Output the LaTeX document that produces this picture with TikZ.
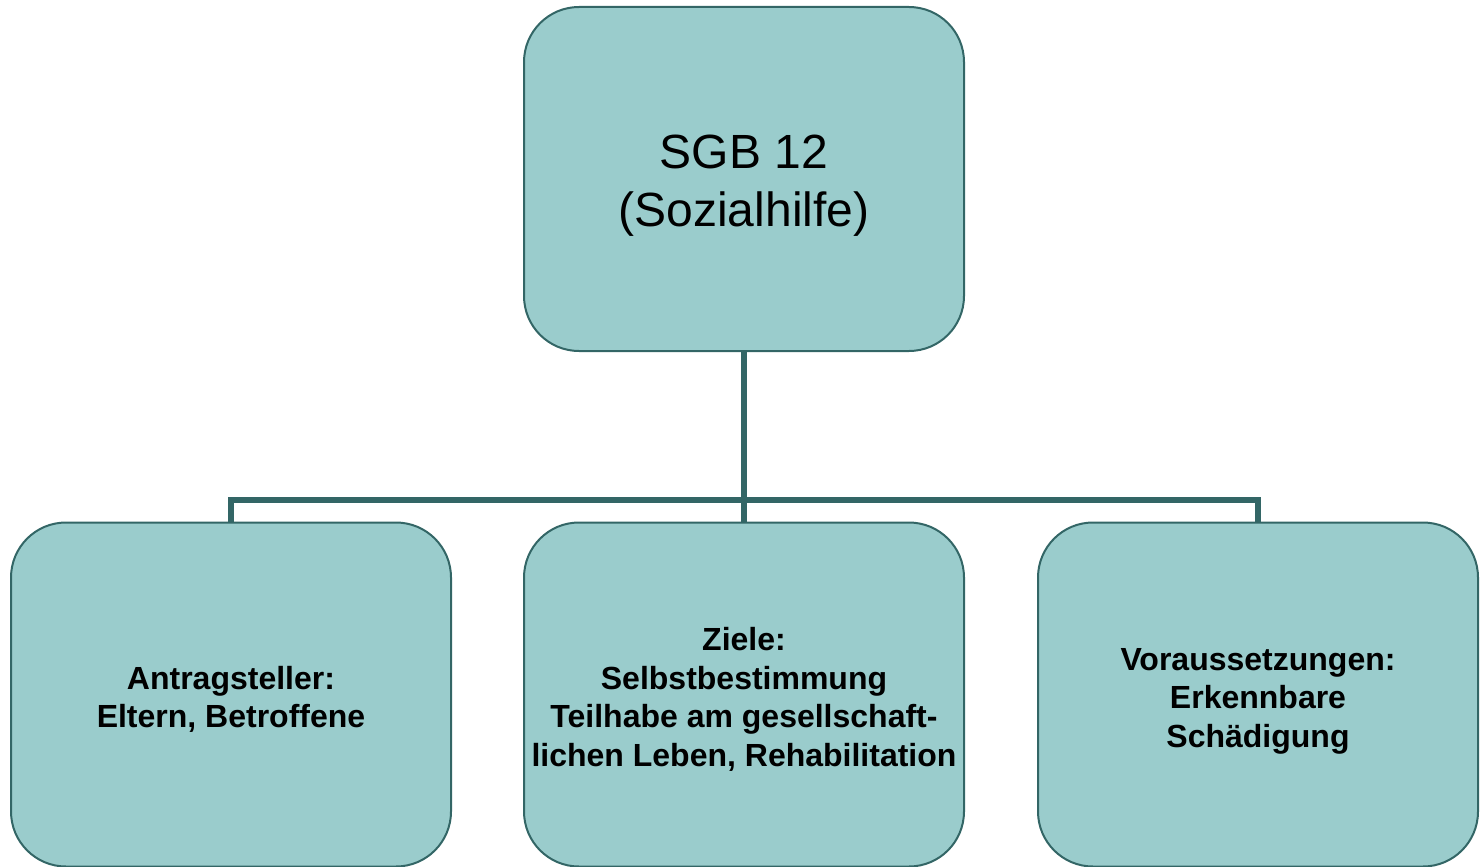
\documentclass[tikz,border=0pt]{standalone}
\usepackage{fontspec}
\setmainfont{Liberation Sans}
\definecolor{boxfill}{HTML}{9ACCCC}
\definecolor{boxline}{HTML}{336666}
\newcommand\celltext[1]{\raisebox{-6.5pt}[\height][\depth]{\begin{tabular}{@{}c@{}}#1\end{tabular}}}
\begin{document}
\begin{tikzpicture}[x=1pt,y=-1pt,
  box/.style={draw=boxline, line width=2pt, fill=boxfill, rounded corners=55pt,
    minimum width=440pt, minimum height=344pt, inner sep=0pt, align=center},
  toptext/.style={font=\fontsize{48}{58}\selectfont},
  subtext/.style={font=\fontsize{32}{38.5}\selectfont\bfseries},
  conn/.style={draw=boxline, line width=6pt}]
\useasboundingbox (0,0) rectangle (1480,867);
\node[box, toptext] (top) at (744,179) {\celltext{SGB 12\\(Sozialhilfe)}};
\node[box, subtext] (left) at (231,694.5) {\celltext{Antragsteller:\\Eltern, Betroffene}};
\node[box, subtext] (mid) at (744,694.5) {\celltext{Ziele:\\Selbstbestimmung\\Teilhabe am gesellschaft-\\lichen Leben, Rehabilitation}};
\node[box, subtext] (right) at (1258,694.5) {\celltext{Voraussetzungen:\\Erkennbare\\Schädigung}};
\coordinate (bar) at (744,500);
\draw[conn] (top.south) -- (bar);
\draw[conn] (bar) -| (left.north);
\draw[conn] (bar) -| (right.north);
\draw[conn] (bar) -- (mid.north);
\end{tikzpicture}
\end{document}
